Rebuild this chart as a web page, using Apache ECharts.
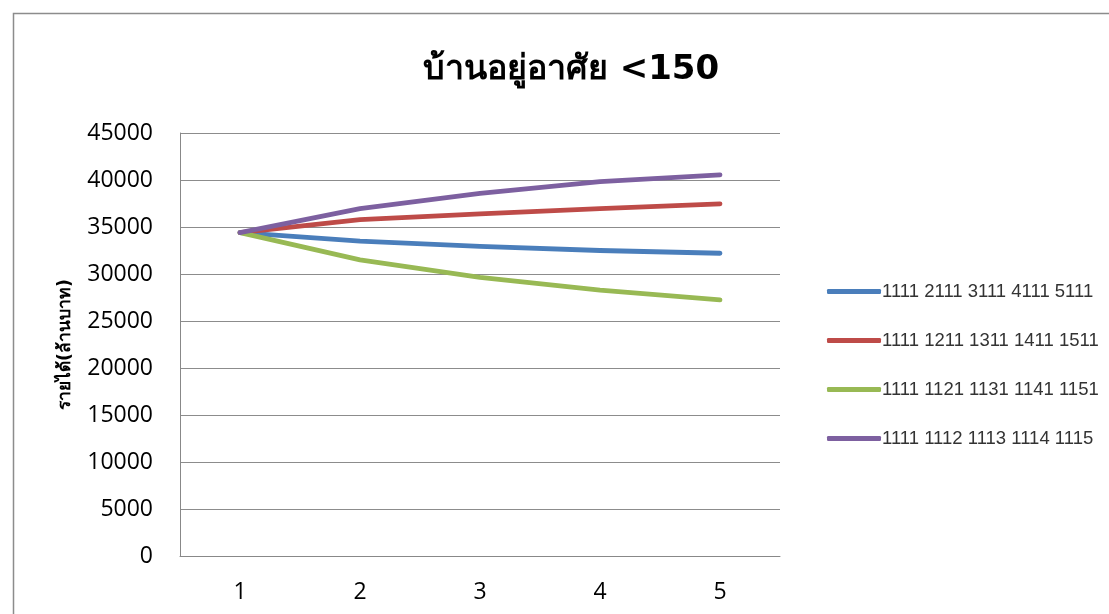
<!DOCTYPE html>
<html>
<head>
<meta charset="utf-8">
<script src="https://cdn.jsdelivr.net/npm/echarts@6/dist/echarts.min.js"></script>
<style>
  html, body { margin: 0; padding: 0; background: #fff; }
  #chart { width: 1109px; height: 614px; }
</style>
</head>
<body>
<div id="chart"></div>
<script>
// Period categories on the horizontal axis
const categories = ['1', '2', '3', '4', '5'];

// Series names shown in the legend
const seriesNames = [
  '1111 2111 3111 4111 5111',
  '1111 1211 1311 1411 1511',
  '1111 1121 1131 1141 1151',
  '1111 1112 1113 1114 1115'
];

// Income (million baht) for each scenario
const blueValues   = [34400, 33500, 32930, 32500, 32210];
const redValues    = [34400, 35780, 36400, 36960, 37460];
const greenValues  = [34400, 31500, 29640, 28290, 27250];
const purpleValues = [34400, 36960, 38570, 39820, 40540];

const colors = ['#4A7EBB', '#BE4B48', '#98B954', '#7D60A0'];
const seriesData = [blueValues, redValues, greenValues, purpleValues];

const chart = echarts.init(document.getElementById('chart'), null, { renderer: 'canvas' });

chart.setOption({
  animation: false,
  backgroundColor: '#ffffff',
  graphic: [{
    type: 'rect',
    shape: { x: 13.5, y: 13.5, width: 1120, height: 620 },
    style: { fill: 'none', stroke: '#8c8c8c', lineWidth: 1.5 },
    silent: true
  }],
  title: {
    text: 'บ้านอยู่อาศัย <150',
    left: 566,
    top: 48,
    textAlign: 'center',
    textStyle: {
      fontFamily: 'DejaVu Sans, Noto Sans, sans-serif',
      fontSize: 34,
      fontWeight: 'bold',
      color: '#000'
    }
  },
  legend: {
    orient: 'vertical',
    left: 822,
    top: 277,
    itemWidth: 54,
    itemHeight: 5,
    itemGap: 30,
    icon: 'roundRect',
    textStyle: {
      fontFamily: 'Liberation Sans, Arial, sans-serif',
      fontSize: 18.5,
      color: '#333',
      padding: [0, 0, 0, -4]
    },
    data: seriesNames.map(n => ({ name: n }))
  },
  grid: {
    left: 180,
    right: 329,
    top: 133,
    bottom: 58,
    containLabel: false
  },
  xAxis: {
    type: 'category',
    data: categories,
    boundaryGap: true,
    axisLine: { lineStyle: { color: '#888888', width: 1 } },
    axisTick: { show: false },
    axisLabel: {
      fontFamily: 'Open Sans, sans-serif',
      fontSize: 23,
      color: '#000',
      margin: 25
    }
  },
  yAxis: {
    type: 'value',
    min: 0,
    max: 45000,
    interval: 5000,
    name: 'รายได้(ล้านบาท)',
    nameLocation: 'middle',
    nameGap: 106,
    nameRotate: 90,
    nameTextStyle: {
      fontFamily: 'DejaVu Sans, Noto Sans, sans-serif',
      fontSize: 17.5,
      fontWeight: 'bold',
      color: '#000'
    },
    axisLine: { show: true, lineStyle: { color: '#888888', width: 1 } },
    axisTick: { show: false },
    axisLabel: {
      fontFamily: 'Open Sans, sans-serif',
      fontSize: 23,
      color: '#000',
      margin: 27,
      formatter: v => String(v)
    },
    splitLine: { lineStyle: { color: '#8c8c8c', width: 1 } }
  },
  series: seriesNames.map((name, i) => ({
    name: name,
    type: 'line',
    data: seriesData[i],
    symbol: 'none',
    smooth: false,
    lineStyle: { color: colors[i], width: 4.8, cap: 'round', join: 'round' },
    itemStyle: { color: colors[i] }
  }))
});
</script>
</body>
</html>
